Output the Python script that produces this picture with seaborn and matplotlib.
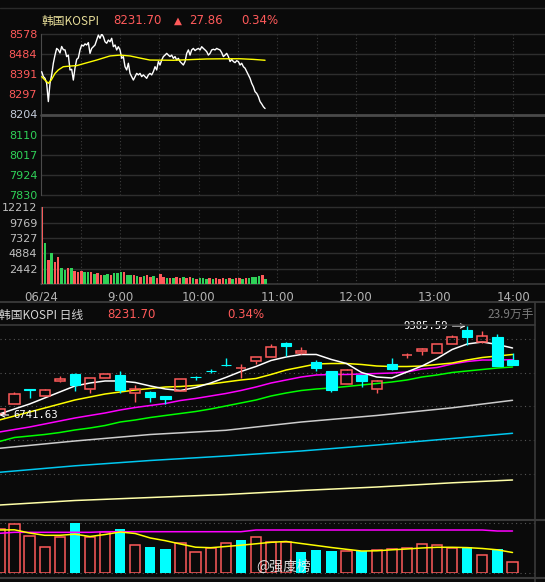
import numpy as np
import matplotlib.pyplot as plt
from matplotlib.lines import Line2D
import seaborn as sns

# ---------------- 分时 (intraday, minutes after 8:00 Beijing time) ----------------
prev_close = 8203.84
last_price = 8231.70
price_ticks = [8578, 8484, 8391, 8297, 8204, 8110, 8017, 7924, 7830]
vol_ticks = [2442, 4884, 7327, 9769, 12212]
time_ticks = [0, 60, 120, 180, 240, 300, 360]
time_labels = ["06/24", "9:00", "10:00", "11:00", "12:00", "13:00", "14:00"]

line_price = [
    8403, 8380, 8372, 8349, 8264, 8349, 8388, 8442, 8480, 8511, 8504, 8490, 8520, 8505, 8504,
    8473, 8480, 8411, 8414, 8364, 8420, 8460, 8467, 8504, 8527, 8522, 8532, 8527, 8538, 8488,
    8511, 8519, 8527, 8550, 8573, 8558, 8578, 8566, 8542, 8535, 8550, 8542, 8558, 8519, 8527,
    8504, 8519, 8504, 8465, 8473, 8426, 8411, 8442, 8395, 8380, 8364, 8380, 8395, 8388, 8395,
    8380, 8388, 8380, 8372, 8388, 8395, 8388, 8403, 8426, 8411, 8450, 8434, 8457, 8473, 8480,
    8488, 8480, 8473, 8480, 8465, 8473, 8457, 8465, 8450, 8442, 8434, 8450, 8488, 8504, 8480,
    8504, 8511, 8501, 8507, 8511, 8504, 8519, 8511, 8504, 8496, 8480, 8488, 8504, 8507, 8504,
    8511, 8507, 8504, 8491, 8473, 8480, 8488, 8473, 8450, 8460, 8450, 8445, 8454, 8450, 8434,
    8442, 8426, 8419, 8403, 8388, 8372, 8349, 8333, 8310, 8302, 8287, 8264, 8253, 8240, 8231.70,
]
avg_minutes = [0.2, 2.7, 5.3, 7.8, 10.4, 12.9, 16.7, 21.8, 26.9, 33.3, 42.2, 52.3, 60.0, 67.6,
               77.8, 82.8, 100.6, 126.1, 141.3, 151.5, 161.7, 170.6]
avg_price = [8380, 8364, 8349, 8367, 8395, 8411, 8426, 8429, 8431, 8442, 8457, 8476, 8480, 8476,
             8463, 8457, 8456, 8462, 8463, 8463, 8460, 8456]

tick_vol = [
    12212, 6575, 3821, 4882, 3502, 4298, 2600, 2229, 2494, 2494, 2070, 1964, 2070, 1858, 1858,
    1858, 1539, 1698, 1433, 1433, 1539, 1433, 1698, 1698, 1964, 1858, 1433, 1433, 1433, 1274,
    1167, 1327, 1433, 1167, 1220, 1008, 1539, 1167, 1008, 902, 1008, 1167, 1008, 1167, 902,
    1061, 902, 796, 1008, 1008, 743, 902, 796, 902, 796, 902, 796, 902, 796, 1008,
    902, 796, 902, 902, 1167, 1167, 1327, 1433, 796,
]
tick_up = [
    1, 0, 1, 0, 1, 1, 0, 0, 1, 0, 1, 1, 1, 0, 0,
    1, 0, 1, 1, 0, 0, 1, 0, 0, 0, 1, 0, 0, 1, 0,
    1, 0, 1, 1, 0, 1, 1, 1, 0, 1, 0, 1, 1, 0, 1,
    1, 0, 1, 0, 0, 0, 1, 0, 1, 1, 1, 0, 1, 0, 1,
    1, 0, 1, 0, 0, 0, 0, 1, 0,
]

# ---------------- 日线 (daily) ----------------
opens = [6760, 7077, 7499, 7315, 7752, 7960, 7505, 7850, 7930, 7404, 7425, 7306, 7463, 7870, 8055,
         8227, 8129, 8355, 8456, 8881, 8592, 8316, 8049, 7671, 7921, 7505, 8257, 8509, 8643, 8592,
         8860, 9258, 8901, 9059, 8390]
highs = [6935, 7425, 7514, 7523, 7900, 7989, 7840, 7965, 8058, 7633, 7463, 7310, 7820, 7891, 8108,
         8435, 8257, 8460, 8851, 8910, 8753, 8375, 8055, 8117, 7925, 7781, 8435, 8592, 8732, 8855,
         9109, 9385.59, 9228, 9148, 8578]
lows = [6741.63, 7070, 7255, 7310, 7713, 7446, 7395, 7845, 7386, 7137, 7137, 7068, 7455, 7781, 7989,
        8210, 7841, 8266, 8450, 8503, 8554, 8040, 7425, 7665, 7564, 7404, 8078, 8435, 8533, 8588,
        8855, 8830, 8895, 8200, 8231.70]
closes = [6920, 7356, 7480, 7484, 7820, 7642, 7832, 7960, 7493, 7514, 7276, 7226, 7811, 7856, 8043,
          8212, 8144, 8456, 8753, 8800, 8652, 8147, 7493, 8069, 7743, 7750, 8117, 8524, 8702, 8851,
          9059, 9050, 9080, 8203.84, 8231.70]
volumes = [95.6, 105.7, 80.3, 55.8, 77.5, 108.5, 77.5, 89.6, 95.6, 60.1, 57.1, 52.1, 64.4, 44.9, 53.6,
           64.4, 71.6, 77.5, 66.6, 66.6, 45.6, 49.9, 47.7, 47.7, 47.7, 49.9, 52.1, 54.3, 62.2, 60.8,
           54.3, 55.7, 38.3, 51.4, 23.9]  # 万手

ma5 = [6771, 6920, 7068, 7246, 7425, 7603, 7692, 7752, 7752, 7707, 7603, 7514, 7469, 7558, 7692,
       7856, 8034, 8182, 8361, 8465, 8539, 8539, 8390, 8271, 8004, 7870, 7841, 8019, 8197, 8420,
       8687, 8851, 8910, 8836, 8732]
ma10 = [6593, 6712, 6830, 6949, 7068, 7187, 7276, 7365, 7425, 7484, 7529, 7573, 7588, 7618, 7662,
        7722, 7781, 7826, 7945, 8078, 8167, 8257, 8271, 8271, 8242, 8197, 8182, 8182, 8197, 8242,
        8286, 8375, 8450, 8494, 8539]
ma20 = [6236, 6311, 6385, 6474, 6563, 6652, 6727, 6801, 6890, 6964, 7024, 7083, 7172, 7232, 7306,
        7380, 7469, 7573, 7692, 7781, 7870, 7930, 7945, 7945, 7960, 7974, 7989, 8019, 8108, 8153,
        8257, 8331, 8375, 8375, 8384]
ma30 = [5954, 6073, 6117, 6162, 6221, 6296, 6355, 6429, 6533, 6593, 6667, 6727, 6786, 6845, 6920,
        7009, 7098, 7187, 7306, 7395, 7469, 7514, 7544, 7588, 7633, 7677, 7722, 7781, 7870, 7930,
        8004, 8049, 8093, 8138, 8167]
slow_idx = [0, 5, 10, 15, 20, 25, 30, 34]
ma60 = [5752, 5969, 6162, 6287, 6533, 6727, 6955, 7178]
ma120 = [5039, 5232, 5390, 5523, 5672, 5850, 6043, 6198]
ma250 = [4067, 4201, 4290, 4379, 4498, 4602, 4727, 4810]

vol_ma5 = [93.3, 93.7, 86.8, 81.8, 81.8, 84.2, 79.2, 83.5, 89.0, 85.7, 76.0, 70.1, 62.9, 56.0, 54.9,
           57.5, 60.3, 63.4, 66.6, 68.4, 64.0, 59.7, 55.3, 51.4, 47.7, 48.2, 50.3, 52.1, 54.3, 55.8,
           55.8, 55.1, 53.2, 50.3, 44.5]
vol_ma10 = [86.1, 88.3, 88.3, 88.3, 88.3, 88.3, 88.3, 89.6, 89.6, 89.6, 89.6, 89.6, 89.6, 89.6, 89.6,
            89.6, 89.6, 93.3, 93.3, 93.3, 93.3, 93.3, 93.3, 93.3, 93.3, 93.3, 93.3, 93.3, 93.3, 93.3,
            93.3, 93.3, 93.3, 91.1, 91.1]

# ---------------- style ----------------
BG = "#0a0a0a"
RED = "#ff5a5a"
GREEN = "#2fd158"
CYAN = "#00ffff"
GRID = "#2e2e2e"

sns.set_style("dark", {"axes.facecolor": BG, "figure.facecolor": BG})
plt.rcParams["font.family"] = ["DejaVu Sans", "Noto Sans CJK SC"]
CJK = ["Noto Sans CJK SC", "DejaVu Sans"]
MONO = ["DejaVu Sans Mono"]

W, H = 545, 582
fig = plt.figure(figsize=(W / 100, H / 100), dpi=100, facecolor=BG)


def px_box(l, t, r, b):
    return [l / W, 1 - b / H, (r - l) / W, (b - t) / H]


def hline(y, x0=0, x1=W, **kw):
    fig.add_artist(Line2D([x0 / W, x1 / W], [1 - y / H, 1 - y / H], **kw))


def vline(x, y0, y1, **kw):
    fig.add_artist(Line2D([x / W, x / W], [1 - y0 / H, 1 - y1 / H], **kw))


def clean(ax):
    ax.set_facecolor(BG)
    for s in ax.spines.values():
        s.set_visible(False)
    ax.grid(False)


# ---------------- intraday price ----------------
ax1 = fig.add_axes(px_box(41.4, 34, 552.7, 195))
clean(ax1)
for p in price_ticks:
    mid = p == 8204
    ax1.axhline(p, color="#4a4a4a" if mid else GRID, lw=2.0 if mid else 1.0, zorder=1, clip_on=False)
for m in range(30, 390, 30):
    ax1.axvline(m, color="#3c3c3c", lw=0.8, ls=(0, (1, 2)), zorder=1)

minutes = np.linspace(0.2, 170.6, len(line_price))
sns.lineplot(x=minutes, y=line_price, ax=ax1, color="white", lw=1.0, zorder=3)
sns.lineplot(x=avg_minutes, y=avg_price, ax=ax1, color="#ffff00", lw=1.0, zorder=3)
ax1.set_xlim(0, 390)
ax1.set_ylim(7830, 8578)
ax1.set_xticks([])
ax1.set_yticks(price_ticks)
ax1.set_yticklabels([str(p) for p in price_ticks])
for lab, p in zip(ax1.get_yticklabels(), price_ticks):
    lab.set_color(RED if p > prev_close + 1 else ("#c4ccda" if abs(p - prev_close) < 1 else GREEN))
ax1.tick_params(axis="y", length=0, pad=3, labelsize=8)
ax1.spines["left"].set_visible(True)
ax1.spines["left"].set_color("#4a4a4a")
ax1.set_xlabel("")
ax1.set_ylabel("")

# ---------------- intraday volume ----------------
ax2 = fig.add_axes(px_box(41.4, 207.3, 552.7, 284))
clean(ax2)
for v in vol_ticks:
    ax2.axhline(v, color=GRID, lw=1.0, zorder=1, clip_on=False)
ax2.axhline(0, color="#3a3a3a", lw=1.2, zorder=1, clip_on=False)
for m in range(30, 390, 30):
    ax2.axvline(m, color="#3c3c3c", lw=0.8, ls=(0, (1, 2)), zorder=1)
vol_minutes = np.linspace(0.3, 171, len(tick_vol))
ax2.bar(vol_minutes, tick_vol, width=1.9, linewidth=0,
        color=[RED if u else GREEN for u in tick_up], zorder=2)
ax2.set_xlim(0, 390)
ax2.set_ylim(0, 12212)
ax2.set_yticks(vol_ticks)
ax2.set_yticklabels([str(v) for v in vol_ticks])
ax2.set_xticks(time_ticks)
ax2.set_xticklabels(time_labels)
ax2.tick_params(axis="y", length=0, pad=3, labelsize=8, labelcolor="#c0c0c0")
ax2.tick_params(axis="x", length=0, pad=5, labelsize=8.5, labelcolor="#b4b4b4")
ax2.spines["left"].set_visible(True)
ax2.spines["left"].set_color("#4a4a4a")

# ---------------- headers and separators ----------------
hline(8, color="#2a2a2a", lw=1.0)
hline(302, color="#363636", lw=1.5)
change = last_price - prev_close
pct = change / prev_close * 100
fy = 1 - 21 / H
fig.text(41 / W, fy, "韩国KOSPI", color="#e6dc98", fontsize=8.5, family=CJK, va="center")
fig.text(113 / W, fy, f"{last_price:.2f}", color=RED, fontsize=8.5, va="center")
fig.text(174 / W, fy, "▲", color=RED, fontsize=7.5, va="center")
fig.text(189 / W, fy, f"{change:.2f}", color=RED, fontsize=8.5, va="center")
fig.text(241 / W, fy, f"{pct:.2f}%", color=RED, fontsize=8.5, va="center")

fy2 = 1 - 315 / H
fig.text(-1 / W, fy2, "韩国KOSPI 日线", color="#d6d6d6", fontsize=8.5, family=CJK, va="center")
fig.text(107 / W, fy2, f"{last_price:.2f}", color=RED, fontsize=8.5, va="center")
fig.text(227 / W, fy2, f"{pct:.2f}%", color=RED, fontsize=8.5, va="center")
fig.text(534 / W, fy2, f"{volumes[-1]:.1f}万手", color="#7c7c7c", fontsize=8.5, family=CJK,
         va="center", ha="right")

# ---------------- daily candles ----------------
o = np.array(opens)
h = np.array(highs)
l = np.array(lows)
c = np.array(closes)
idx = np.arange(len(o))
up = c >= o

ax3 = fig.add_axes(px_box(0, 325, 535, 520))
clean(ax3)
for g in [5000, 6000, 7000, 8000, 9000]:
    ax3.axhline(g, color="#555555", lw=0.8, ls=(0, (1, 3)), zorder=1)

sns.lineplot(x=slow_idx, y=ma250, ax=ax3, color="#ffffa8", lw=1.1, zorder=2)
sns.lineplot(x=slow_idx, y=ma120, ax=ax3, color="#00c8f0", lw=1.1, zorder=2)
sns.lineplot(x=slow_idx, y=ma60, ax=ax3, color="#cccccc", lw=1.1, zorder=2)
sns.lineplot(x=idx, y=ma30, ax=ax3, color="#00ff00", lw=1.1, zorder=2)
sns.lineplot(x=idx, y=ma20, ax=ax3, color="#ff00ff", lw=1.1, zorder=2)
sns.lineplot(x=idx, y=ma10, ax=ax3, color="#ffff00", lw=1.1, zorder=2)
sns.lineplot(x=idx, y=ma5, ax=ax3, color="white", lw=1.1, zorder=2)

# rising: hollow red, falling: solid cyan
ax3.vlines(idx[up], c[up], h[up], color=RED, lw=1.0, zorder=4)
ax3.vlines(idx[up], l[up], o[up], color=RED, lw=1.0, zorder=4)
ax3.bar(idx[up], c[up] - o[up], bottom=o[up], width=0.68, facecolor="none",
        edgecolor=RED, lw=1.1, zorder=4)
ax3.vlines(idx[~up], l[~up], h[~up], color=CYAN, lw=1.0, zorder=4)
ax3.bar(idx[~up], o[~up] - c[~up], bottom=c[~up], width=0.68, color=CYAN,
        edgecolor=CYAN, lw=0.8, zorder=5)

hi_i = int(np.argmax(h))
lo_i = int(np.argmin(l))
ax3.annotate(f"{h[hi_i]:.2f}", xy=(hi_i, h[hi_i]), xytext=(-14, 0), textcoords="offset points",
             ha="right", va="center", color="white", fontsize=7.6, family=MONO,
             arrowprops=dict(arrowstyle="->", color="white", lw=0.8, shrinkA=1, shrinkB=1),
             annotation_clip=False, zorder=6)
ax3.annotate(f"{l[lo_i]:.2f}", xy=(lo_i, l[lo_i]), xytext=(10, 0), textcoords="offset points",
             ha="left", va="center", color="white", fontsize=7.6, family=MONO,
             arrowprops=dict(arrowstyle="->", color="white", lw=0.8, shrinkA=1, shrinkB=0),
             annotation_clip=False, zorder=6)
ax3.set_xlim(0.04, 35.49)
ax3.set_ylim(3622, 9415)
ax3.set_xticks([])
ax3.set_yticks([])
ax3.set_xlabel("")
ax3.set_ylabel("")

# ---------------- daily volume ----------------
ax4 = fig.add_axes(px_box(0, 523, 535, 573))
clean(ax4)
for g in [0, 108.5]:
    ax4.axhline(g, color="#555555", lw=0.8, ls=(0, (1, 3)), zorder=1, clip_on=False)
prev = np.r_[o[0], c[:-1]]
vup = c >= prev
vol = np.array(volumes)
ax4.bar(idx[vup], vol[vup], width=0.68, facecolor="none", edgecolor=RED, lw=1.1, zorder=3)
ax4.bar(idx[~vup], vol[~vup], width=0.68, color=CYAN, linewidth=0, zorder=3)
sns.lineplot(x=idx, y=vol_ma10, ax=ax4, color="#ff00ff", lw=1.1, zorder=4)
sns.lineplot(x=idx, y=vol_ma5, ax=ax4, color="#ffff00", lw=1.1, zorder=4)
ax4.set_xlim(0.04, 35.49)
ax4.set_ylim(0, 108.5)
ax4.set_xticks([])
ax4.set_yticks([])
ax4.set_xlabel("")
ax4.set_ylabel("")

hline(325, 0, 535, color="#3a3a3a", lw=1.2)
hline(520, 0, 545, color="#3a3a3a", lw=1.5)
hline(578, 0, 545, color="#3a3a3a", lw=1.5)
vline(535, 302, 582, color="#3a3a3a", lw=1.2)

fig.text(256 / W, 1 - 567 / H, "@强度榜", color="#eeeeee", fontsize=10, family=CJK,
         va="center", alpha=0.9)

fig.savefig("out.png", dpi=100, facecolor=BG)
